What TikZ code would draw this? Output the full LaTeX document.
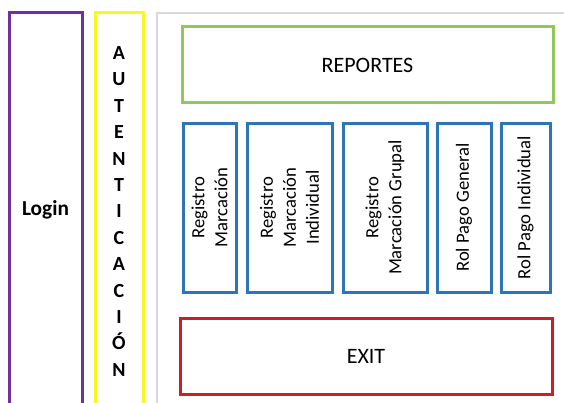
\documentclass[tikz,border=0pt]{standalone}
\usepackage{fontspec}
\setmainfont{Carlito}
\tikzset{every picture/.style={line width=0.75pt}}
\begin{document}
\begin{tikzpicture}[x=0.75pt,y=0.75pt,yscale=-1,xscale=1]
	%set diagram window: width 564, height 403
	\useasboundingbox (0,0) rectangle (564,403);
	\clip (0,0) rectangle (564,403);

	%Shape: Rectangle [id:dp5120733468215930] 
	\draw  [color={rgb, 255:red, 112; green, 48; blue, 160 }  ,draw opacity=1 ][line width=2.25]  (9,13) -- (82,13) -- (82,420) -- (9,420) -- cycle ;
	%Shape: Rectangle [id:dp2843190074315626] 
	\draw  [color={rgb, 255:red, 248; green, 248; blue, 30 }  ,draw opacity=1 ][line width=2.25]  (95,13) -- (143,13) -- (143,420) -- (95,420) -- cycle ;
	%Shape: Rectangle [id:dp8836021149407415] 
	\draw  [color={rgb, 255:red, 217; green, 217; blue, 217 }  ,draw opacity=1 ][line width=1.5]  (156.5,13.5) -- (580,13.5) -- (580,420) -- (156.5,420) -- cycle ;
	%Shape: Rectangle [id:dp0647518300219746] 
	\draw  [color={rgb, 255:red, 146; green, 200; blue, 90 }  ,draw opacity=1 ][line width=2.25]  (182,27) -- (553,27) -- (553,103) -- (182,103) -- cycle ;
	%Shape: Rectangle [id:dp7419935902561834] 
	\draw  [color={rgb, 255:red, 46; green, 117; blue, 182 }  ,draw opacity=1 ][line width=2.25]  (183,123) -- (236,123) -- (236,292) -- (183,292) -- cycle ;
	%Shape: Rectangle [id:dp3390128745671202] 
	\draw  [color={rgb, 255:red, 46; green, 117; blue, 182 }  ,draw opacity=1 ][line width=2.25]  (247,123) -- (332,123) -- (332,292) -- (247,292) -- cycle ;
	%Shape: Rectangle [id:dp9152276610338474] 
	\draw  [color={rgb, 255:red, 46; green, 117; blue, 182 }  ,draw opacity=1 ][line width=2.25]  (343,123) -- (427,123) -- (427,292) -- (343,292) -- cycle ;
	%Shape: Rectangle [id:dp1178045392217653] 
	\draw  [color={rgb, 255:red, 46; green, 117; blue, 182 }  ,draw opacity=1 ][line width=2.25]  (437,123) -- (491,123) -- (491,292) -- (437,292) -- cycle ;
	%Shape: Rectangle [id:dp6605928412290431] 
	\draw  [color={rgb, 255:red, 46; green, 117; blue, 182 }  ,draw opacity=1 ][line width=2.25]  (501,123) -- (550,123) -- (550,292) -- (501,292) -- cycle ;
	%Shape: Rectangle [id:dp4472018839927061] 
	\draw  [color={rgb, 255:red, 208; green, 28; blue, 36 }  ,draw opacity=1 ][line width=2.25]  (180,318) -- (552,318) -- (552,394) -- (180,394) -- cycle ;

	% Text Node
	\draw (45.5,210) node (login) [font=\fontsize{16}{19}\selectfont\bfseries]  {Login};
	% Text Node
	\draw (119,211.5) node (autent) [font=\fontsize{15}{19.8}\selectfont\bfseries, align=center, inner sep=0]  {A\\U\\T\\E\\N\\T\\I\\C\\A\\C\\I\\Ó\\N};
	% Text Node
	\draw (367.5,65) node (reportes) [font=\fontsize{16.5}{20}\selectfont]  {REPORTES};
	% Text Node
	\draw (209.5,207.5) node (regmarc) [font=\fontsize{14}{17.3}\selectfont, rotate=90, align=center]  {Registro\\Marcación};
	% Text Node
	\draw (289.5,207.5) node (regind) [font=\fontsize{14}{17.3}\selectfont, rotate=90, align=center]  {Registro\\Marcación\\Individual};
	% Text Node
	\draw (385,207.5) node (reggrup) [font=\fontsize{14}{17.3}\selectfont, rotate=90, align=center]  {Registro\\Marcación Grupal};
	% Text Node
	\draw (464,207.5) node (rolgen) [font=\fontsize{14}{17.3}\selectfont, rotate=90]  {Rol Pago General};
	% Text Node
	\draw (525.5,207.5) node (rolind) [font=\fontsize{14}{17.3}\selectfont, rotate=90]  {Rol Pago Individual};
	% Text Node
	\draw (366,356) node (exit) [font=\fontsize{16.5}{20}\selectfont]  {EXIT};

\end{tikzpicture}
\end{document}
